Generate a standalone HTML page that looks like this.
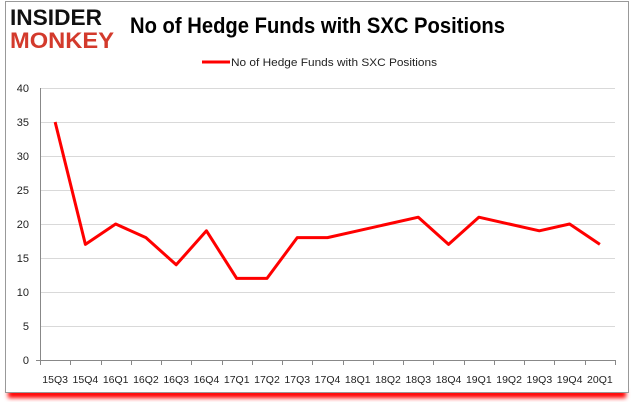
<!DOCTYPE html>
<html><head><style>
body{margin:0;width:635px;height:405px;background:#fff;overflow:hidden;font-family:"Liberation Sans",Arial,sans-serif}
</style></head><body>
<svg width="635" height="405" xmlns="http://www.w3.org/2000/svg">
<defs><filter id="b" x="-5%" y="-50%" width="110%" height="200%"><feGaussianBlur stdDeviation="2"/></filter></defs>
<rect x="8" y="390" width="618" height="8" fill="#f00" filter="url(#b)"/>
<rect x="5.5" y="1.5" width="623" height="391" fill="#fff" stroke="#999"/>
<text x="10" y="25" font-size="22" font-weight="bold" fill="#111" textLength="92" lengthAdjust="spacingAndGlyphs">INSIDER</text>
<text x="10" y="48" font-size="22" font-weight="bold" fill="#d33a2c" textLength="104" lengthAdjust="spacingAndGlyphs">MONKEY</text>
<text x="130" y="33" font-size="22" font-weight="bold" fill="#000" textLength="375" lengthAdjust="spacingAndGlyphs">No of Hedge Funds with SXC Positions</text>
<line x1="202" y1="62" x2="230" y2="62" stroke="#f00" stroke-width="3"/>
<text x="231" y="66" font-size="11" fill="#222" textLength="206" lengthAdjust="spacingAndGlyphs">No of Hedge Funds with SXC Positions</text>
<g stroke="#d9d9d9" stroke-width="1">
<line x1="40" y1="88.5" x2="615" y2="88.5"/><line x1="40" y1="122.5" x2="615" y2="122.5"/><line x1="40" y1="156.5" x2="615" y2="156.5"/><line x1="40" y1="190.5" x2="615" y2="190.5"/><line x1="40" y1="224.5" x2="615" y2="224.5"/><line x1="40" y1="258.5" x2="615" y2="258.5"/><line x1="40" y1="292.5" x2="615" y2="292.5"/><line x1="40" y1="326.5" x2="615" y2="326.5"/>
</g>
<g stroke="#888"><line x1="40.5" y1="88" x2="40.5" y2="360"/><line x1="36" y1="360.5" x2="615" y2="360.5"/></g>
<g font-size="11" fill="#222" text-anchor="end">
<text x="29" y="92">40</text><text x="29" y="126">35</text><text x="29" y="160">30</text><text x="29" y="194">25</text><text x="29" y="228">20</text><text x="29" y="262">15</text><text x="29" y="296">10</text><text x="29" y="330">5</text><text x="29" y="364">0</text>
</g>
<g id="t" stroke="#888"></g>
<g font-size="10.5" fill="#222" text-anchor="middle" id="lbl"></g>
<polyline id="pl" fill="none" stroke="#f00" stroke-width="3" stroke-linejoin="round"/>
</svg>
<script>
var v=[35,17,20,18,14,19,12,12,18,18,19,20,21,17,21,20,19,20,17],L=["15Q3","15Q4","16Q1","16Q2","16Q3","16Q4","17Q1","17Q2","17Q3","17Q4","18Q1","18Q2","18Q3","18Q4","19Q1","19Q2","19Q3","19Q4","20Q1"];
var s=575/19,p=[],t="",l="";
for(var i=0;i<19;i++){var x=40+s*(i+.5);p.push(x+","+(360-v[i]*6.8));l+='<text x="'+x+'" y="383">'+L[i]+'</text>';}
for(var i=0;i<=19;i++){var x=Math.round(40+s*i)+.5;t+='<line x1="'+x+'" y1="360" x2="'+x+'" y2="365"/>';}
document.getElementById("pl").setAttribute("points",p.join(" "));
document.getElementById("t").innerHTML=t;document.getElementById("lbl").innerHTML=l;
</script>
</body></html>
